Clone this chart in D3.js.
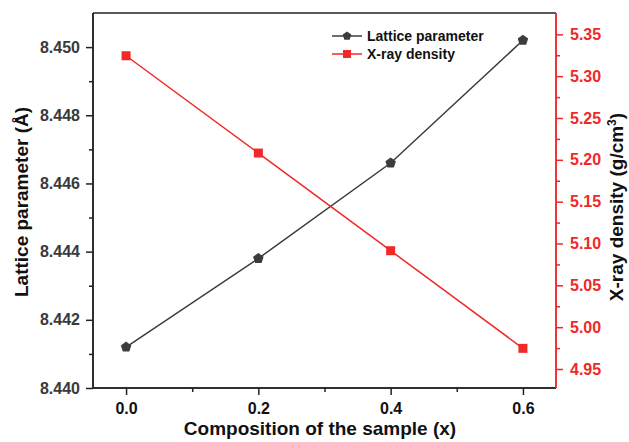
<!DOCTYPE html>
<html><head><meta charset="utf-8">
<script src="https://cdn.jsdelivr.net/npm/d3@7"></script>
<style>body{margin:0;background:#fff;} text{font-family:"Liberation Sans",Arial,sans-serif;font-weight:bold;}</style>
</head><body>
<svg id="c" width="629" height="442"></svg>
<script>
const composition = [0.0, 0.2, 0.4, 0.6];
const latticeParam = [8.4412, 8.4438, 8.4466, 8.4502];
const xrayDensity = [5.3244, 5.2081, 5.0914, 4.9747];
const xTicks = [0.0, 0.2, 0.4, 0.6];
const leftTicks = [8.440, 8.442, 8.444, 8.446, 8.448, 8.450];
const rightTicks = [4.95, 5.00, 5.05, 5.10, 5.15, 5.20, 5.25, 5.30, 5.35];

const svg = d3.select("#c");
const L = 93, R = 556, T = 13, B = 388;
const x = d3.scaleLinear().domain([-0.05, 0.65]).range([L, R]);
const yL = d3.scaleLinear().domain([8.440, 8.451]).range([B, T]);
const yR = d3.scaleLinear().domain([4.9273, 5.3755]).range([B, T]);
const dark = "#3c3c3c", red = "#f02828", axisCol = "#222";

// top border
svg.append("line").attr("x1", L).attr("x2", R).attr("y1", T).attr("y2", T).attr("stroke", axisCol).attr("stroke-width", 1.5);

// bottom axis
const gx = svg.append("g").attr("transform", `translate(0,${B})`);
gx.call(d3.axisBottom(x).tickValues(xTicks).tickFormat(d3.format(".1f")).tickSize(7).tickSizeOuter(0).tickPadding(8));
gx.append("g").call(d3.axisBottom(x).tickValues([0.1, 0.3, 0.5]).tickFormat("").tickSize(4).tickSizeOuter(0));
gx.selectAll("path.domain").attr("d", `M${L},0H${R}`);

// left axis
const gl = svg.append("g").attr("transform", `translate(${L},0)`);
gl.call(d3.axisLeft(yL).tickValues(leftTicks).tickFormat(d3.format(".3f")).tickSize(7).tickSizeOuter(0).tickPadding(6));
gl.append("g").call(d3.axisLeft(yL).tickValues([8.441, 8.443, 8.445, 8.447, 8.449]).tickFormat("").tickSize(4).tickSizeOuter(0));
gl.selectAll("path.domain").attr("d", `M0,${B}V${T}`);

// right axis
const gr = svg.append("g").attr("transform", `translate(${R},0)`);
gr.call(d3.axisRight(yR).tickValues(rightTicks).tickFormat(d3.format(".2f")).tickSize(7).tickSizeOuter(0).tickPadding(7));
const minorR = d3.range(4.975, 5.37, 0.05);
gr.append("g").call(d3.axisRight(yR).tickValues(minorR).tickFormat("").tickSize(4).tickSizeOuter(0));
gr.selectAll("path.domain").attr("d", `M0,${B}V${T}`);

[gx, gl].forEach(g => { g.selectAll("path,line").attr("stroke", axisCol).attr("stroke-width", 1.5); });
gx.selectAll("text").attr("fill", "#111").style("font-size", "16px");
gl.selectAll("text").attr("fill", "#3a3a3a").style("font-size", "16px");
gr.selectAll("path,line").attr("stroke", red).attr("stroke-width", 1.5);
gr.selectAll("text").attr("fill", red).style("font-size", "16px");

// lines
const lineL = d3.line().x((d, i) => x(composition[i])).y(d => yL(d));
const lineR = d3.line().x((d, i) => x(composition[i])).y(d => yR(d));
svg.append("path").attr("d", lineL(latticeParam)).attr("fill", "none").attr("stroke", dark).attr("stroke-width", 1.5);
svg.append("path").attr("d", lineR(xrayDensity)).attr("fill", "none").attr("stroke", red).attr("stroke-width", 1.5);

function pentagon(cx, cy, r) {
  const pts = [];
  for (let k = 0; k < 5; k++) {
    const a = -Math.PI / 2 + k * 2 * Math.PI / 5;
    pts.push([cx + r * Math.cos(a), cy + r * Math.sin(a)]);
  }
  return "M" + pts.map(p => p.join(",")).join("L") + "Z";
}
svg.append("g").selectAll("path").data(latticeParam).join("path")
  .attr("d", (d, i) => pentagon(x(composition[i]), yL(d), 5.5)).attr("fill", dark);
svg.append("g").selectAll("rect").data(xrayDensity).join("rect")
  .attr("x", (d, i) => x(composition[i]) - 4.5).attr("y", d => yR(d) - 4.5)
  .attr("width", 9).attr("height", 9).attr("fill", red);

// legend
const lg = svg.append("g");
const items = [{t: "Lattice parameter", c: dark, m: "p"}, {t: "X-ray density", c: red, m: "s"}];
items.forEach((it, i) => {
  const yy = 36 + i * 18;
  lg.append("line").attr("x1", 332).attr("x2", 362).attr("y1", yy).attr("y2", yy).attr("stroke", it.c).attr("stroke-width", 1.5);
  if (it.m === "p") lg.append("path").attr("d", pentagon(347, yy, 4.5)).attr("fill", it.c);
  else lg.append("rect").attr("x", 343).attr("y", yy - 4).attr("width", 8).attr("height", 8).attr("fill", it.c);
  lg.append("text").attr("x", 367).attr("y", yy + 5).text(it.t).style("font-size", "14px").attr("fill", "#111");
});

// axis titles
svg.append("text").attr("x", 320).attr("y", 435).attr("text-anchor", "middle")
  .style("font-size", "19px").attr("fill", "#111").text("Composition of the sample (x)");
svg.append("text").attr("transform", `translate(28,202) rotate(-90)`).attr("text-anchor", "middle")
  .style("font-size", "19px").attr("fill", "#111").text("Lattice parameter (Å)");
const rt = svg.append("text").attr("transform", `translate(623,207) rotate(-90)`).attr("text-anchor", "middle")
  .style("font-size", "19px").attr("fill", "#111");
rt.append("tspan").text("X-ray density (g/cm");
rt.append("tspan").attr("dy", -7).style("font-size", "12px").text("3");
rt.append("tspan").attr("dy", 7).text(")");
</script>
</body></html>
